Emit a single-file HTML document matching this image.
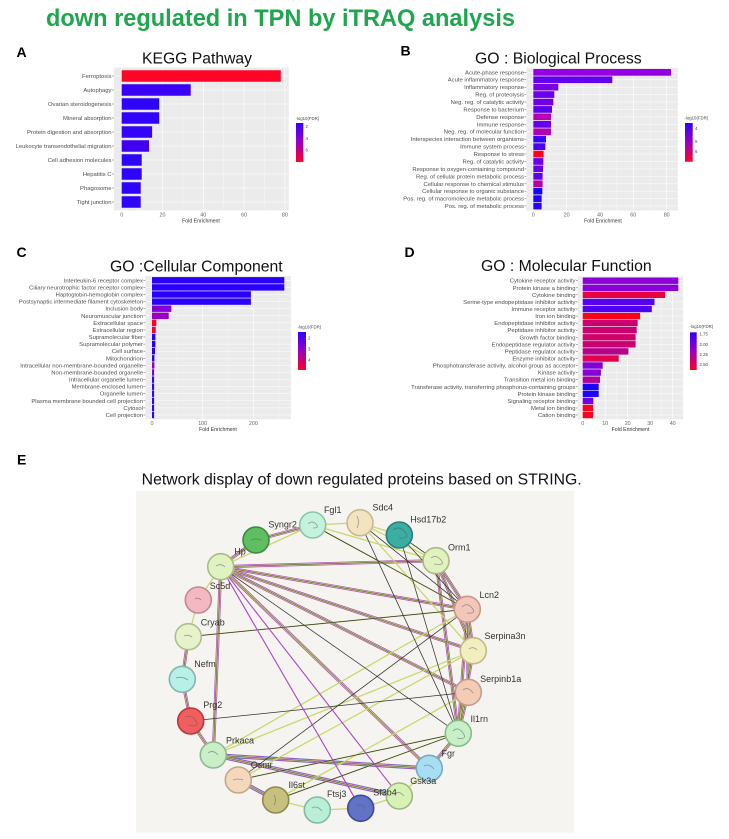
<!DOCTYPE html>
<html><head><meta charset="utf-8"><style>
html,body{margin:0;padding:0;background:#fff;}
svg{display:block;font-family:"Liberation Sans",Arial,sans-serif;}
.yl{font-size:5.9px;fill:#4d4d4d;text-anchor:end;}
.xl{font-size:5.4px;fill:#666;text-anchor:middle;}
.fe{font-size:5.2px;fill:#333;text-anchor:middle;}
.lg{font-size:4.3px;fill:#444;}
.pt{font-size:15.3px;fill:#111;}
.pl{font-size:14px;font-weight:bold;fill:#000;}
.nl{font-size:9px;fill:#333;text-anchor:middle;}
.gM{stroke:#fff;stroke-width:0.6;}
.gm{stroke:#fff;stroke-width:0.3;}
.tk{stroke:#333;stroke-width:0.4;}
</style></head><body>
<svg width="729" height="839" viewBox="0 0 729 839" xmlns="http://www.w3.org/2000/svg">
<defs>
<linearGradient id="lgA" x1="0" y1="0" x2="0" y2="1"><stop offset="0" stop-color="#3300ff"/><stop offset="0.5" stop-color="#9a00c0"/><stop offset="1" stop-color="#ff0022"/></linearGradient>
</defs>
<rect width="729" height="839" fill="#fff"/>
<text x="46" y="26" font-size="23.6" font-weight="bold" fill="#21a650" textLength="469" lengthAdjust="spacingAndGlyphs">down regulated in TPN by iTRAQ analysis</text>

<!-- Panel A -->
<text class="pl" x="16.5" y="57">A</text>
<text class="pt" x="142" y="63.3" textLength="110" lengthAdjust="spacingAndGlyphs">KEGG Pathway</text>
<rect x="114" y="67.6" width="174.8" height="142.8" fill="#ebebeb"/>
<g class="gm"><line x1="142.1" y1="67.6" x2="142.1" y2="210.4"/><line x1="182.9" y1="67.6" x2="182.9" y2="210.4"/><line x1="223.7" y1="67.6" x2="223.7" y2="210.4"/><line x1="264.5" y1="67.6" x2="264.5" y2="210.4"/></g>
<g class="gM"><line x1="121.7" y1="67.6" x2="121.7" y2="210.4"/><line x1="162.5" y1="67.6" x2="162.5" y2="210.4"/><line x1="203.3" y1="67.6" x2="203.3" y2="210.4"/><line x1="244.1" y1="67.6" x2="244.1" y2="210.4"/><line x1="284.9" y1="67.6" x2="284.9" y2="210.4"/>
<line x1="114" y1="76" x2="288.8" y2="76"/><line x1="114" y1="90" x2="288.8" y2="90"/><line x1="114" y1="104" x2="288.8" y2="104"/><line x1="114" y1="118" x2="288.8" y2="118"/><line x1="114" y1="132" x2="288.8" y2="132"/><line x1="114" y1="146" x2="288.8" y2="146"/><line x1="114" y1="160" x2="288.8" y2="160"/><line x1="114" y1="174" x2="288.8" y2="174"/><line x1="114" y1="188" x2="288.8" y2="188"/><line x1="114" y1="202" x2="288.8" y2="202"/></g>
<rect x="121.7" y="70.25" width="159.1" height="11.5" fill="#fe0627"/>
<rect x="121.7" y="84.25" width="69.0" height="11.5" fill="#3a00f6"/>
<rect x="121.7" y="98.25" width="37.5" height="11.5" fill="#3004fa"/>
<rect x="121.7" y="112.25" width="37.5" height="11.5" fill="#3004fa"/>
<rect x="121.7" y="126.25" width="30.4" height="11.5" fill="#3404f8"/>
<rect x="121.7" y="140.25" width="27.3" height="11.5" fill="#4000f2"/>
<rect x="121.7" y="154.25" width="20.0" height="11.5" fill="#2e04fb"/>
<rect x="121.7" y="168.25" width="20.0" height="11.5" fill="#2e04fb"/>
<rect x="121.7" y="182.25" width="19.0" height="11.5" fill="#2e04fb"/>
<rect x="121.7" y="196.25" width="19.0" height="11.5" fill="#2e04fb"/>
<g class="tk"><line x1="112" y1="76" x2="114" y2="76"/><line x1="112" y1="90" x2="114" y2="90"/><line x1="112" y1="104" x2="114" y2="104"/><line x1="112" y1="118" x2="114" y2="118"/><line x1="112" y1="132" x2="114" y2="132"/><line x1="112" y1="146" x2="114" y2="146"/><line x1="112" y1="160" x2="114" y2="160"/><line x1="112" y1="174" x2="114" y2="174"/><line x1="112" y1="188" x2="114" y2="188"/><line x1="112" y1="202" x2="114" y2="202"/></g>
<text class="yl" x="111.5" y="78">Ferroptosis</text>
<text class="yl" x="111.5" y="92">Autophagy</text>
<text class="yl" x="111.5" y="106">Ovarian steroidogenesis</text>
<text class="yl" x="111.5" y="120">Mineral absorption</text>
<text class="yl" x="111.5" y="134">Protein digestion and absorption</text>
<text class="yl" x="111.5" y="148">Leukocyte transendothelial migration</text>
<text class="yl" x="111.5" y="162">Cell adhesion molecules</text>
<text class="yl" x="111.5" y="176">Hepatitis C</text>
<text class="yl" x="111.5" y="190">Phagosome</text>
<text class="yl" x="111.5" y="204">Tight junction</text>
<text class="xl" x="121.7" y="216.5">0</text><text class="xl" x="162.5" y="216.5">20</text><text class="xl" x="203.3" y="216.5">40</text><text class="xl" x="244.1" y="216.5">60</text><text class="xl" x="284.9" y="216.5">80</text>
<text class="fe" x="201" y="222.5">Fold Enrichment</text>
<text class="lg" x="295.5" y="119.8">-log10(FDR)</text>
<rect x="296" y="123" width="7.3" height="39" fill="url(#lgA)"/>
<text class="lg" x="305.5" y="128">2</text><text class="lg" x="305.5" y="140">4</text><text class="lg" x="305.5" y="151.5">6</text>

<!-- Panel B -->
<text class="pl" x="400.5" y="55.5">B</text>
<text class="pt" x="475" y="63.3" textLength="166.7" lengthAdjust="spacingAndGlyphs">GO : Biological Process</text>
<rect x="526.4" y="67.8" width="151.4" height="142.7" fill="#ebebeb"/>
<g class="gm"><line x1="550" y1="67.8" x2="550" y2="210.5"/><line x1="583.3" y1="67.8" x2="583.3" y2="210.5"/><line x1="616.7" y1="67.8" x2="616.7" y2="210.5"/><line x1="650" y1="67.8" x2="650" y2="210.5"/></g>
<g class="gM"><line x1="533.3" y1="67.8" x2="533.3" y2="210.5"/><line x1="566.6" y1="67.8" x2="566.6" y2="210.5"/><line x1="600" y1="67.8" x2="600" y2="210.5"/><line x1="633.3" y1="67.8" x2="633.3" y2="210.5"/><line x1="666.7" y1="67.8" x2="666.7" y2="210.5"/></g>
<g stroke="#fff" stroke-width="0.5">
<line x1="526.4" y1="72.3" x2="677.8" y2="72.3"/><line x1="526.4" y1="79.7" x2="677.8" y2="79.7"/><line x1="526.4" y1="87.2" x2="677.8" y2="87.2"/><line x1="526.4" y1="94.6" x2="677.8" y2="94.6"/><line x1="526.4" y1="102" x2="677.8" y2="102"/><line x1="526.4" y1="109.5" x2="677.8" y2="109.5"/><line x1="526.4" y1="116.9" x2="677.8" y2="116.9"/><line x1="526.4" y1="124.3" x2="677.8" y2="124.3"/><line x1="526.4" y1="131.7" x2="677.8" y2="131.7"/><line x1="526.4" y1="139.2" x2="677.8" y2="139.2"/><line x1="526.4" y1="146.6" x2="677.8" y2="146.6"/><line x1="526.4" y1="154" x2="677.8" y2="154"/><line x1="526.4" y1="161.5" x2="677.8" y2="161.5"/><line x1="526.4" y1="168.9" x2="677.8" y2="168.9"/><line x1="526.4" y1="176.3" x2="677.8" y2="176.3"/><line x1="526.4" y1="183.8" x2="677.8" y2="183.8"/><line x1="526.4" y1="191.2" x2="677.8" y2="191.2"/><line x1="526.4" y1="198.6" x2="677.8" y2="198.6"/><line x1="526.4" y1="206" x2="677.8" y2="206"/></g>
<rect x="533.3" y="69.0" width="137.7" height="6.7" fill="#9500e0"/>
<rect x="533.3" y="76.4" width="79.0" height="6.7" fill="#6400ef"/>
<rect x="533.3" y="83.8" width="25.0" height="6.7" fill="#7a00e4"/>
<rect x="533.3" y="91.2" width="21.0" height="6.7" fill="#6c00ea"/>
<rect x="533.3" y="98.7" width="20.0" height="6.7" fill="#7200e6"/>
<rect x="533.3" y="106.1" width="18.7" height="6.7" fill="#5e00f0"/>
<rect x="533.3" y="113.5" width="17.7" height="6.7" fill="#b500b0"/>
<rect x="533.3" y="121.0" width="17.7" height="6.7" fill="#6200ef"/>
<rect x="533.3" y="128.4" width="17.7" height="6.7" fill="#b000b5"/>
<rect x="533.3" y="135.8" width="12.7" height="6.7" fill="#3a00fb"/>
<rect x="533.3" y="143.3" width="12.0" height="6.7" fill="#4a00f6"/>
<rect x="533.3" y="150.7" width="10.3" height="6.7" fill="#ff0022"/>
<rect x="533.3" y="158.1" width="10.0" height="6.7" fill="#6a00ec"/>
<rect x="533.3" y="165.5" width="9.7" height="6.7" fill="#6a00ec"/>
<rect x="533.3" y="173.0" width="9.3" height="6.7" fill="#6200ef"/>
<rect x="533.3" y="180.4" width="9.3" height="6.7" fill="#b500a8"/>
<rect x="533.3" y="187.8" width="9.0" height="6.7" fill="#1800ff"/>
<rect x="533.3" y="195.3" width="8.3" height="6.7" fill="#2000ff"/>
<rect x="533.3" y="202.7" width="8.3" height="6.7" fill="#2800fc"/>
<g class="tk"><line x1="524.4" y1="72.3" x2="526.4" y2="72.3"/><line x1="524.4" y1="79.7" x2="526.4" y2="79.7"/><line x1="524.4" y1="87.2" x2="526.4" y2="87.2"/><line x1="524.4" y1="94.6" x2="526.4" y2="94.6"/><line x1="524.4" y1="102" x2="526.4" y2="102"/><line x1="524.4" y1="109.5" x2="526.4" y2="109.5"/><line x1="524.4" y1="116.9" x2="526.4" y2="116.9"/><line x1="524.4" y1="124.3" x2="526.4" y2="124.3"/><line x1="524.4" y1="131.7" x2="526.4" y2="131.7"/><line x1="524.4" y1="139.2" x2="526.4" y2="139.2"/><line x1="524.4" y1="146.6" x2="526.4" y2="146.6"/><line x1="524.4" y1="154" x2="526.4" y2="154"/><line x1="524.4" y1="161.5" x2="526.4" y2="161.5"/><line x1="524.4" y1="168.9" x2="526.4" y2="168.9"/><line x1="524.4" y1="176.3" x2="526.4" y2="176.3"/><line x1="524.4" y1="183.8" x2="526.4" y2="183.8"/><line x1="524.4" y1="191.2" x2="526.4" y2="191.2"/><line x1="524.4" y1="198.6" x2="526.4" y2="198.6"/><line x1="524.4" y1="206" x2="526.4" y2="206"/></g>
<text class="yl" x="524" y="74.3">Acute-phase response</text>
<text class="yl" x="524" y="81.7">Acute inflammatory response</text>
<text class="yl" x="524" y="89.2">Inflammatory response</text>
<text class="yl" x="524" y="96.6">Reg. of proteolysis</text>
<text class="yl" x="524" y="104">Neg. reg. of catalytic activity</text>
<text class="yl" x="524" y="111.5">Response to bacterium</text>
<text class="yl" x="524" y="118.9">Defense response</text>
<text class="yl" x="524" y="126.3">Immune response</text>
<text class="yl" x="524" y="133.7">Neg. reg. of molecular function</text>
<text class="yl" x="524" y="141.2">Interspecies interaction between organisms</text>
<text class="yl" x="524" y="148.6">Immune system process</text>
<text class="yl" x="524" y="156">Response to stress</text>
<text class="yl" x="524" y="163.5">Reg. of catalytic activity</text>
<text class="yl" x="524" y="170.9">Response to oxygen-containing compound</text>
<text class="yl" x="524" y="178.3">Reg. of cellular protein metabolic process</text>
<text class="yl" x="524" y="185.8">Cellular response to chemical stimulus</text>
<text class="yl" x="524" y="193.2">Cellular response to organic substance</text>
<text class="yl" x="524" y="200.6">Pos. reg. of macromolecule metabolic process</text>
<text class="yl" x="524" y="208">Pos. reg. of metabolic process</text>
<text class="xl" x="533.3" y="216.5">0</text><text class="xl" x="566.6" y="216.5">20</text><text class="xl" x="600" y="216.5">40</text><text class="xl" x="633.3" y="216.5">60</text><text class="xl" x="666.7" y="216.5">80</text>
<text class="fe" x="603" y="222.5">Fold Enrichment</text>
<text class="lg" x="684.5" y="119.5">-log10(FDR)</text>
<rect x="685" y="123" width="7.7" height="38.7" fill="url(#lgA)"/>
<text class="lg" x="695" y="130">4</text><text class="lg" x="695" y="143">5</text><text class="lg" x="695" y="153">6</text>

<!-- Panel C -->
<text class="pl" x="16.5" y="257">C</text>
<text class="pt" x="110" y="271.7" textLength="172.7" lengthAdjust="spacingAndGlyphs">GO :Cellular Component</text>
<rect x="145.4" y="276" width="145.5" height="143.3" fill="#ebebeb"/>
<g class="gm"><line x1="177.4" y1="276" x2="177.4" y2="419.3"/><line x1="228.1" y1="276" x2="228.1" y2="419.3"/><line x1="278.8" y1="276" x2="278.8" y2="419.3"/></g>
<g class="gM"><line x1="152" y1="276" x2="152" y2="419.3"/><line x1="202.7" y1="276" x2="202.7" y2="419.3"/><line x1="253.4" y1="276" x2="253.4" y2="419.3"/></g>
<g stroke="#fff" stroke-width="0.5">
<line x1="145.4" y1="280.3" x2="290.9" y2="280.3"/><line x1="145.4" y1="287.4" x2="290.9" y2="287.4"/><line x1="145.4" y1="294.5" x2="290.9" y2="294.5"/><line x1="145.4" y1="301.6" x2="290.9" y2="301.6"/><line x1="145.4" y1="308.7" x2="290.9" y2="308.7"/><line x1="145.4" y1="315.8" x2="290.9" y2="315.8"/><line x1="145.4" y1="322.8" x2="290.9" y2="322.8"/><line x1="145.4" y1="329.9" x2="290.9" y2="329.9"/><line x1="145.4" y1="337" x2="290.9" y2="337"/><line x1="145.4" y1="344.1" x2="290.9" y2="344.1"/><line x1="145.4" y1="351.2" x2="290.9" y2="351.2"/><line x1="145.4" y1="358.3" x2="290.9" y2="358.3"/><line x1="145.4" y1="365.4" x2="290.9" y2="365.4"/><line x1="145.4" y1="372.5" x2="290.9" y2="372.5"/><line x1="145.4" y1="379.6" x2="290.9" y2="379.6"/><line x1="145.4" y1="386.7" x2="290.9" y2="386.7"/><line x1="145.4" y1="393.7" x2="290.9" y2="393.7"/><line x1="145.4" y1="400.8" x2="290.9" y2="400.8"/><line x1="145.4" y1="407.9" x2="290.9" y2="407.9"/><line x1="145.4" y1="415" x2="290.9" y2="415"/></g>
<rect x="152" y="277.1" width="132.3" height="6.4" fill="#2a00fc"/>
<rect x="152" y="284.2" width="132.3" height="6.4" fill="#2a00fc"/>
<rect x="152" y="291.3" width="98.9" height="6.4" fill="#2a00fc"/>
<rect x="152" y="298.4" width="98.9" height="6.4" fill="#2a00fc"/>
<rect x="152" y="305.5" width="19.3" height="6.4" fill="#8400d8"/>
<rect x="152" y="312.6" width="16.7" height="6.4" fill="#9a00c4"/>
<rect x="152" y="319.6" width="4.3" height="6.4" fill="#ff0020"/>
<rect x="152" y="326.7" width="3.7" height="6.4" fill="#f0003a"/>
<rect x="152" y="333.8" width="3.4" height="6.4" fill="#2a00fc"/>
<rect x="152" y="340.9" width="3.4" height="6.4" fill="#2a00fc"/>
<rect x="152" y="348.0" width="3.0" height="6.4" fill="#2a00fc"/>
<rect x="152" y="355.1" width="2.4" height="6.4" fill="#2a00fc"/>
<rect x="152" y="362.2" width="2.4" height="6.4" fill="#8a00cc"/>
<rect x="152" y="369.3" width="2.1" height="6.4" fill="#7a00d8"/>
<rect x="152" y="376.4" width="2.1" height="6.4" fill="#3000fa"/>
<rect x="152" y="383.5" width="2.1" height="6.4" fill="#3000fa"/>
<rect x="152" y="390.5" width="2.1" height="6.4" fill="#3000fa"/>
<rect x="152" y="397.6" width="2.1" height="6.4" fill="#3000fa"/>
<rect x="152" y="404.7" width="2.1" height="6.4" fill="#3000fa"/>
<rect x="152" y="411.8" width="2.1" height="6.4" fill="#3000fa"/>
<g class="tk"><line x1="143.4" y1="280.3" x2="145.4" y2="280.3"/><line x1="143.4" y1="287.4" x2="145.4" y2="287.4"/><line x1="143.4" y1="294.5" x2="145.4" y2="294.5"/><line x1="143.4" y1="301.6" x2="145.4" y2="301.6"/><line x1="143.4" y1="308.7" x2="145.4" y2="308.7"/><line x1="143.4" y1="315.8" x2="145.4" y2="315.8"/><line x1="143.4" y1="322.8" x2="145.4" y2="322.8"/><line x1="143.4" y1="329.9" x2="145.4" y2="329.9"/><line x1="143.4" y1="337" x2="145.4" y2="337"/><line x1="143.4" y1="344.1" x2="145.4" y2="344.1"/><line x1="143.4" y1="351.2" x2="145.4" y2="351.2"/><line x1="143.4" y1="358.3" x2="145.4" y2="358.3"/><line x1="143.4" y1="365.4" x2="145.4" y2="365.4"/><line x1="143.4" y1="372.5" x2="145.4" y2="372.5"/><line x1="143.4" y1="379.6" x2="145.4" y2="379.6"/><line x1="143.4" y1="386.7" x2="145.4" y2="386.7"/><line x1="143.4" y1="393.7" x2="145.4" y2="393.7"/><line x1="143.4" y1="400.8" x2="145.4" y2="400.8"/><line x1="143.4" y1="407.9" x2="145.4" y2="407.9"/><line x1="143.4" y1="415" x2="145.4" y2="415"/></g>
<text class="yl" x="143" y="282.3">Interleukin-6 receptor complex</text>
<text class="yl" x="143" y="289.4">Ciliary neurotrophic factor receptor complex</text>
<text class="yl" x="143" y="296.5">Haptoglobin-hemoglobin complex</text>
<text class="yl" x="143" y="303.6">Postsynaptic intermediate filament cytoskeleton</text>
<text class="yl" x="143" y="310.7">Inclusion body</text>
<text class="yl" x="143" y="317.8">Neuromuscular junction</text>
<text class="yl" x="143" y="324.8">Extracellular space</text>
<text class="yl" x="143" y="331.9">Extracellular region</text>
<text class="yl" x="143" y="339">Supramolecular fiber</text>
<text class="yl" x="143" y="346.1">Supramolecular polymer</text>
<text class="yl" x="143" y="353.2">Cell surface</text>
<text class="yl" x="143" y="360.3">Mitochondrion</text>
<text class="yl" x="143" y="367.4">Intracellular non-membrane-bounded organelle</text>
<text class="yl" x="143" y="374.5">Non-membrane-bounded organelle</text>
<text class="yl" x="143" y="381.6">Intracellular organelle lumen</text>
<text class="yl" x="143" y="388.7">Membrane-enclosed lumen</text>
<text class="yl" x="143" y="395.7">Organelle lumen</text>
<text class="yl" x="143" y="402.8">Plasma membrane bounded cell projection</text>
<text class="yl" x="143" y="409.9">Cytosol</text>
<text class="yl" x="143" y="417">Cell projection</text>
<text class="xl" x="152" y="425">0</text><text class="xl" x="202.7" y="425">100</text><text class="xl" x="253.4" y="425">200</text>
<text class="fe" x="218" y="431">Fold Enrichment</text>
<text class="lg" x="297.5" y="328.5">-log10(FDR)</text>
<rect x="298" y="332" width="8" height="38" fill="url(#lgA)"/>
<text class="lg" x="308" y="339.5">2</text><text class="lg" x="308" y="350.5">3</text><text class="lg" x="308" y="361.5">4</text>

<!-- Panel D -->
<text class="pl" x="404.5" y="257">D</text>
<text class="pt" x="481" y="271" textLength="170.7" lengthAdjust="spacingAndGlyphs">GO : Molecular Function</text>
<rect x="577.9" y="276.4" width="105.2" height="142.9" fill="#ebebeb"/>
<g class="gm"><line x1="594" y1="276.4" x2="594" y2="419.3"/><line x1="616.5" y1="276.4" x2="616.5" y2="419.3"/><line x1="639" y1="276.4" x2="639" y2="419.3"/><line x1="661.5" y1="276.4" x2="661.5" y2="419.3"/></g>
<g class="gM"><line x1="582.7" y1="276.4" x2="582.7" y2="419.3"/><line x1="605.2" y1="276.4" x2="605.2" y2="419.3"/><line x1="627.7" y1="276.4" x2="627.7" y2="419.3"/><line x1="650.2" y1="276.4" x2="650.2" y2="419.3"/><line x1="672.7" y1="276.4" x2="672.7" y2="419.3"/></g>
<g stroke="#fff" stroke-width="0.5">
<line x1="577.9" y1="280.7" x2="683.1" y2="280.7"/><line x1="577.9" y1="287.8" x2="683.1" y2="287.8"/><line x1="577.9" y1="294.8" x2="683.1" y2="294.8"/><line x1="577.9" y1="301.9" x2="683.1" y2="301.9"/><line x1="577.9" y1="309" x2="683.1" y2="309"/><line x1="577.9" y1="316.1" x2="683.1" y2="316.1"/><line x1="577.9" y1="323.1" x2="683.1" y2="323.1"/><line x1="577.9" y1="330.2" x2="683.1" y2="330.2"/><line x1="577.9" y1="337.3" x2="683.1" y2="337.3"/><line x1="577.9" y1="344.3" x2="683.1" y2="344.3"/><line x1="577.9" y1="351.4" x2="683.1" y2="351.4"/><line x1="577.9" y1="358.5" x2="683.1" y2="358.5"/><line x1="577.9" y1="365.5" x2="683.1" y2="365.5"/><line x1="577.9" y1="372.6" x2="683.1" y2="372.6"/><line x1="577.9" y1="379.7" x2="683.1" y2="379.7"/><line x1="577.9" y1="386.8" x2="683.1" y2="386.8"/><line x1="577.9" y1="393.8" x2="683.1" y2="393.8"/><line x1="577.9" y1="400.9" x2="683.1" y2="400.9"/><line x1="577.9" y1="408" x2="683.1" y2="408"/><line x1="577.9" y1="415" x2="683.1" y2="415"/></g>
<rect x="582.7" y="277.5" width="95.6" height="6.4" fill="#8c00d8"/>
<rect x="582.7" y="284.6" width="95.6" height="6.4" fill="#8c00d8"/>
<rect x="582.7" y="291.6" width="82.4" height="6.4" fill="#ea0040"/>
<rect x="582.7" y="298.7" width="71.8" height="6.4" fill="#5800f0"/>
<rect x="582.7" y="305.8" width="69.1" height="6.4" fill="#5000f2"/>
<rect x="582.7" y="312.9" width="57.4" height="6.4" fill="#ff0018"/>
<rect x="582.7" y="319.9" width="54.9" height="6.4" fill="#cc0070"/>
<rect x="582.7" y="327.0" width="54.0" height="6.4" fill="#cc0070"/>
<rect x="582.7" y="334.1" width="52.9" height="6.4" fill="#d00068"/>
<rect x="582.7" y="341.1" width="52.9" height="6.4" fill="#c80074"/>
<rect x="582.7" y="348.2" width="45.7" height="6.4" fill="#b8008a"/>
<rect x="582.7" y="355.3" width="36.0" height="6.4" fill="#e20050"/>
<rect x="582.7" y="362.3" width="20.0" height="6.4" fill="#8400d8"/>
<rect x="582.7" y="369.4" width="18.2" height="6.4" fill="#8400d8"/>
<rect x="582.7" y="376.5" width="17.3" height="6.4" fill="#b0009a"/>
<rect x="582.7" y="383.6" width="16.0" height="6.4" fill="#1c00ff"/>
<rect x="582.7" y="390.6" width="16.0" height="6.4" fill="#1c00ff"/>
<rect x="582.7" y="397.7" width="10.6" height="6.4" fill="#7000e0"/>
<rect x="582.7" y="404.8" width="10.4" height="6.4" fill="#ff0020"/>
<rect x="582.7" y="411.8" width="10.4" height="6.4" fill="#ff0020"/>
<g class="tk"><line x1="575.9" y1="280.7" x2="577.9" y2="280.7"/><line x1="575.9" y1="287.8" x2="577.9" y2="287.8"/><line x1="575.9" y1="294.8" x2="577.9" y2="294.8"/><line x1="575.9" y1="301.9" x2="577.9" y2="301.9"/><line x1="575.9" y1="309" x2="577.9" y2="309"/><line x1="575.9" y1="316.1" x2="577.9" y2="316.1"/><line x1="575.9" y1="323.1" x2="577.9" y2="323.1"/><line x1="575.9" y1="330.2" x2="577.9" y2="330.2"/><line x1="575.9" y1="337.3" x2="577.9" y2="337.3"/><line x1="575.9" y1="344.3" x2="577.9" y2="344.3"/><line x1="575.9" y1="351.4" x2="577.9" y2="351.4"/><line x1="575.9" y1="358.5" x2="577.9" y2="358.5"/><line x1="575.9" y1="365.5" x2="577.9" y2="365.5"/><line x1="575.9" y1="372.6" x2="577.9" y2="372.6"/><line x1="575.9" y1="379.7" x2="577.9" y2="379.7"/><line x1="575.9" y1="386.8" x2="577.9" y2="386.8"/><line x1="575.9" y1="393.8" x2="577.9" y2="393.8"/><line x1="575.9" y1="400.9" x2="577.9" y2="400.9"/><line x1="575.9" y1="408" x2="577.9" y2="408"/><line x1="575.9" y1="415" x2="577.9" y2="415"/></g>
<text class="yl" x="575.5" y="282.7">Cytokine receptor activity</text>
<text class="yl" x="575.5" y="289.8">Protein kinase a binding</text>
<text class="yl" x="575.5" y="296.8">Cytokine binding</text>
<text class="yl" x="575.5" y="303.9">Serine-type endopeptidase inhibitor activity</text>
<text class="yl" x="575.5" y="311">Immune receptor activity</text>
<text class="yl" x="575.5" y="318.1">Iron ion binding</text>
<text class="yl" x="575.5" y="325.1">Endopeptidase inhibitor activity</text>
<text class="yl" x="575.5" y="332.2">Peptidase inhibitor activity</text>
<text class="yl" x="575.5" y="339.3">Growth factor binding</text>
<text class="yl" x="575.5" y="346.3">Endopeptidase regulator activity</text>
<text class="yl" x="575.5" y="353.4">Peptidase regulator activity</text>
<text class="yl" x="575.5" y="360.5">Enzyme inhibitor activity</text>
<text class="yl" x="575.5" y="367.5">Phosphotransferase activity, alcohol group as acceptor</text>
<text class="yl" x="575.5" y="374.6">Kinase activity</text>
<text class="yl" x="575.5" y="381.7">Transition metal ion binding</text>
<text class="yl" x="575.5" y="388.8">Transferase activity, transferring phosphorus-containing groups</text>
<text class="yl" x="575.5" y="395.8">Protein kinase binding</text>
<text class="yl" x="575.5" y="402.9">Signaling receptor binding</text>
<text class="yl" x="575.5" y="410">Metal ion binding</text>
<text class="yl" x="575.5" y="417">Cation binding</text>
<text class="xl" x="582.7" y="425">0</text><text class="xl" x="605.2" y="425">10</text><text class="xl" x="627.7" y="425">20</text><text class="xl" x="650.2" y="425">30</text><text class="xl" x="672.7" y="425">40</text>
<text class="fe" x="630.5" y="431">Fold Enrichment</text>
<text class="lg" x="689.5" y="328">-log10(FDR)</text>
<rect x="690" y="332.3" width="6.7" height="37.7" fill="url(#lgA)"/>
<text class="lg" x="699.5" y="335.5">1.75</text><text class="lg" x="699.5" y="346">2.00</text><text class="lg" x="699.5" y="356">2.25</text><text class="lg" x="699.5" y="366">2.50</text>

<!-- Panel E -->
<text class="pl" x="17" y="464.3">E</text>
<text x="141.7" y="484.3" font-size="15.3" fill="#111" textLength="440" lengthAdjust="spacingAndGlyphs">Network display of down regulated proteins based on STRING.</text>
<rect x="136" y="490.7" width="438" height="342" fill="#f6f4f1"/>
<defs>
<path id="multi" d="M220.7 566.7L436 560.7M220.7 566.7L467.3 609.3M220.7 566.7L473.3 650.7M220.7 566.7L468.3 692.3M220.7 566.7L429.3 768.3M220.7 566.7L256 540M256 540L312.7 525M220.7 566.7L213.3 755M188.3 636.7L182.3 679.3M182.3 679.3L190.7 721M190.7 721L213.3 755M213.3 755L429.3 768.3M213.3 755L399.3 796M436 560.7L467.3 609.3M467.3 609.3L473.3 650.7M436 560.7L473.3 650.7M467.3 609.3L468.3 692.3M473.3 650.7L458.3 733.3M436 560.7L458.3 733.3M467.3 609.3L458.3 733.3M458.3 733.3L429.3 768.3M238.3 780L275.7 800M468.3 692.3L458.3 733.3"/>
</defs>
<g fill="none">
<path d="M213.3 755L429.3 768.3M213.3 755L399.3 796M238.3 780L275.7 800" stroke="#5a78d8" stroke-width="4"/>
<use href="#multi" stroke="#b04cc8" stroke-width="3.2"/>
<use href="#multi" stroke="#cddc72" stroke-width="1.8"/>
<use href="#multi" stroke="#3a3a3a" stroke-width="0.5"/>
<path d="M312.7 525L436 560.7M360 522.7L436 560.7M238.3 780L473.3 650.7M213.3 755L467.3 609.3M213.3 755L473.3 650.7M275.7 800L458.3 733.3M188.3 636.7L198.3 600M198.3 600L220.7 566.7M275.7 800L317.3 810M317.3 810L360.7 808.3M360.7 808.3L399.3 796M399.3 796L429.3 768.3M312.7 525L360 522.7M399.3 535L436 560.7M220.7 566.7L312.7 525M188.3 636.7L467.3 609.3M238.3 780L458.3 733.3M275.7 800L468.3 692.3M312.7 525L467.3 609.3M360 522.7L473.3 650.7M360 522.7L399.3 535" stroke="#c8d86a" stroke-width="1.3"/>
<path d="M220.7 566.7L458.3 733.3M312.7 525L467.3 609.3M360 522.7L458.3 733.3M399.3 535L458.3 733.3M399.3 535L467.3 609.3M188.3 636.7L467.3 609.3M190.7 721L468.3 692.3M238.3 780L467.3 609.3M275.7 800L458.3 733.3M360 522.7L467.3 609.3M238.3 780L458.3 733.3M399.3 535L436 560.7" stroke="#333" stroke-width="0.75"/>
<path d="M220.7 566.7L399.3 796M220.7 566.7L360.7 808.3" stroke="#a848c0" stroke-width="1.1"/>
</g>
<g stroke-width="1.6">
<circle cx="312.7" cy="525" r="13" fill="#c5f2dd" stroke="#8cc4a8"/>
<circle cx="360" cy="522.7" r="13" fill="#f3e4c0" stroke="#c8b890"/>
<circle cx="399.3" cy="535" r="13" fill="#3aaea0" stroke="#2a7f78"/>
<circle cx="436" cy="560.7" r="13" fill="#e2f2bf" stroke="#a8bc80"/>
<circle cx="467.3" cy="609.3" r="13" fill="#f2c6b8" stroke="#c89888"/>
<circle cx="473.3" cy="650.7" r="13" fill="#f3eec0" stroke="#c0bb88"/>
<circle cx="468.3" cy="692.3" r="13" fill="#f4cbb4" stroke="#c89c88"/>
<circle cx="458.3" cy="733.3" r="13" fill="#c6f0c6" stroke="#88bb88"/>
<circle cx="429.3" cy="768.3" r="13" fill="#a8def2" stroke="#78aac0"/>
<circle cx="399.3" cy="796" r="13" fill="#d8f2b6" stroke="#a0b880"/>
<circle cx="360.7" cy="808.3" r="13" fill="#6272c6" stroke="#404c90"/>
<circle cx="317.3" cy="810" r="13" fill="#b9efd6" stroke="#88b8a0"/>
<circle cx="275.7" cy="800" r="13" fill="#c8c07e" stroke="#908850"/>
<circle cx="238.3" cy="780" r="13" fill="#f3d8bb" stroke="#c0a888"/>
<circle cx="213.3" cy="755" r="13" fill="#c8efc6" stroke="#90b890"/>
<circle cx="190.7" cy="721" r="13" fill="#ef5f5f" stroke="#b83838"/>
<circle cx="182.3" cy="679.3" r="13" fill="#b8efe6" stroke="#80b8b0"/>
<circle cx="188.3" cy="636.7" r="13" fill="#e6f2c8" stroke="#b0bc90"/>
<circle cx="198.3" cy="600" r="13" fill="#f4b8c2" stroke="#c08890"/>
<circle cx="220.7" cy="566.7" r="13" fill="#dff2bf" stroke="#a8bc88"/>
<circle cx="256" cy="540" r="13" fill="#5fbd62" stroke="#3d8a40"/>
</g>
<g fill="none" stroke="#556" stroke-width="0.8" opacity="0.55">
<path d="M308 524q4-4 8 0t-3 4"/><path d="M357 516q3 6 0 12"/><path d="M393 530q6-5 12 2t-6 6"/><path d="M431 558q5-4 10 2t-7 4"/><path d="M462 607q5-5 10 1t-5 5"/><path d="M469 649q4-3 8 1"/><path d="M463 690q5-4 10 3"/><path d="M453 731q5-5 10 2t-6 5"/><path d="M424 766q5-3 10 3"/><path d="M394 794q5-4 10 2"/><path d="M356 806q5-4 9 3"/><path d="M312 808q5-3 10 3"/><path d="M274 795q3 6 0 10"/><path d="M233 780q5-2 10 0"/><path d="M208 753q5-4 10 2"/><path d="M185 717q6-3 11 4t-8 4"/><path d="M176 678q6-2 12 2"/><path d="M184 636q4-2 8 1"/><path d="M195 599q3-2 6 1"/><path d="M216 566q5-3 9 1"/><path d="M251 540q5-2 10 0"/>
</g>
<text class="nl" x="332.7" y="513">Fgl1</text>
<text class="nl" x="382.7" y="510.3">Sdc4</text>
<text class="nl" x="428.3" y="522.3">Hsd17b2</text>
<text class="nl" x="459.3" y="550.7">Orm1</text>
<text class="nl" x="489.3" y="598">Lcn2</text>
<text class="nl" x="505" y="639">Serpina3n</text>
<text class="nl" x="500.7" y="682">Serpinb1a</text>
<text class="nl" x="479.3" y="722">Il1rn</text>
<text class="nl" x="448.3" y="756.3">Fgr</text>
<text class="nl" x="423.3" y="784">Gsk3a</text>
<text class="nl" x="385" y="795.7">Sf3b4</text>
<text class="nl" x="336.7" y="797">Ftsj3</text>
<text class="nl" x="296.7" y="788">Il6st</text>
<text class="nl" x="261.7" y="768">Osmr</text>
<text class="nl" x="240" y="743.7">Prkaca</text>
<text class="nl" x="212.7" y="708">Prg2</text>
<text class="nl" x="205" y="667">Nefm</text>
<text class="nl" x="212.7" y="625.7">Cryab</text>
<text class="nl" x="220" y="589">Sc5d</text>
<text class="nl" x="240" y="554.7">Hp</text>
<text class="nl" x="282.7" y="527.3">Syngr2</text>
</svg>
</body></html>
